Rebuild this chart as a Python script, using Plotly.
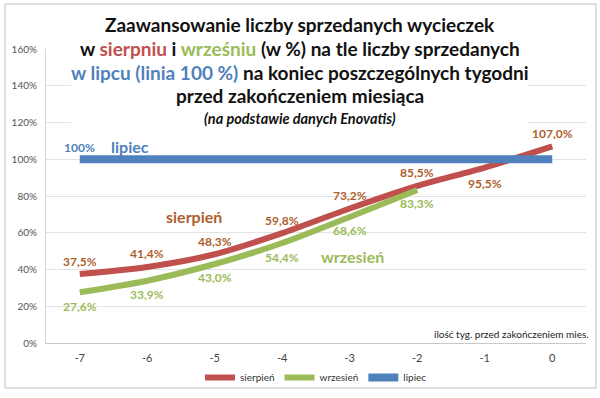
import plotly.graph_objects as go

weeks = ["-7", "-6", "-5", "-4", "-3", "-2", "-1", "0"]
sierpien = [37.5, 41.4, 48.3, 59.8, 73.2, 85.5, 95.5, 107.0]
wrzesien = [27.6, 33.9, 43.0, 54.4, 68.6, 83.3]
lipiec = [100, 100, 100, 100, 100, 100, 100, 100]
sierpien_above = [True, True, True, True, True, True, False, True]

RED = "#C0504D"
GREEN = "#9BBB59"
BLUE = "#4F81BD"
BROWN = "#AE5E2C"
FONT = "Lato, 'Open Sans', sans-serif"

# plot area in pixels
PL, PR, PT, PB = 46, 586, 49, 343
def px(xp):
    return (xp - PL) / (PR - PL)
def py(yp):
    return (PB - yp) / (PB - PT)

def fmt(v):
    return f"{v:.1f}%".replace(".", ",")

fig = go.Figure()
fig.add_trace(go.Scatter(
    x=weeks, y=sierpien, name="sierpień", mode="lines",
    line=dict(color=RED, width=6, shape="spline", smoothing=0.8),
))
fig.add_trace(go.Scatter(
    x=weeks[:len(wrzesien)], y=wrzesien, name="wrzesień", mode="lines",
    line=dict(color=GREEN, width=6, shape="spline", smoothing=0.8),
))
fig.add_trace(go.Scatter(
    x=weeks, y=lipiec, name="lipiec", mode="lines",
    line=dict(color=BLUE, width=8),
))

annotations = []
lblfont = lambda c: dict(size=12, family=FONT, color=c, weight="bold")
for i, v in enumerate(sierpien):
    annotations.append(dict(x=i, y=v, xref="x", yref="y", text=fmt(v), showarrow=False,
                            xanchor="center", yanchor="middle",
                            yshift=13 if sierpien_above[i] else -16, font=lblfont(BROWN)))
for i, v in enumerate(wrzesien):
    annotations.append(dict(x=i, y=v, xref="x", yref="y", text=fmt(v), showarrow=False,
                            xanchor="center", yanchor="middle",
                            yshift=-14, font=lblfont(GREEN)))
annotations.append(dict(x=0, y=lipiec[0], xref="x", yref="y", text="100%", showarrow=False,
                        xanchor="center", yanchor="middle",
                        yshift=12, font=lblfont(BLUE)))

# series name labels
def note(text, xc, yc, size, color, xanchor="center"):
    return dict(text=text, x=px(xc), y=py(yc), xref="paper", yref="paper",
                xanchor=xanchor, yanchor="middle", showarrow=False,
                font=dict(size=size, family=FONT, color=color))

annotations += [
    note("<b>lipiec</b>", 130, 146, 16, BLUE),
    note("<b>sierpień</b>", 194, 216, 16, BROWN),
    note("<b>wrzesień</b>", 352, 256, 16, GREEN),
    note("ilość tyg. przed zakończeniem mies.", 432, 334, 10, "#222222", xanchor="left"),
]

# title lines
title_lines = [
    ("<b>Zaawansowanie liczby sprzedanych wycieczek</b>", 24, 19),
    (f"<b>w <span style='color:{RED}'>sierpniu</span> i <span style='color:{GREEN}'>wrześniu</span> (w %) na tle liczby sprzedanych</b>", 48, 19),
    (f"<b><span style='color:{BLUE}'>w lipcu (linia 100 %)</span> na koniec poszczególnych tygodni</b>", 72, 19),
    ("<b>przed zakończeniem miesiąca</b>", 96, 19),
    ("<b><i>(na podstawie danych Enovatis)</i></b>", 118, 14.5),
]
for text, yc, size in title_lines:
    annotations.append(note(text, 300, yc, size, "#111111"))

fig.update_layout(
    width=600, height=398,
    margin=dict(l=PL, r=600 - PR, t=PT, b=398 - PB, autoexpand=False),
    paper_bgcolor="white", plot_bgcolor="white",
    font=dict(family=FONT, color="#595959"),
    showlegend=True,
    legend=dict(orientation="h", x=0.5, xanchor="center", y=py(363),
                yanchor="top", font=dict(size=10, family=FONT, color="#333333"),
                itemwidth=30, tracegroupgap=0, bgcolor="rgba(0,0,0,0)"),
    xaxis=dict(type="category", range=[-0.5, 7.5], showgrid=False,
               showline=True, linecolor="#C8C8C8", linewidth=1,
               ticks="", tickfont=dict(size=11, color="#444444"), ticklabelstandoff=5),
    yaxis=dict(range=[0, 160], dtick=20, ticksuffix="%", showgrid=True,
               gridcolor="#E3E3E3", gridwidth=1, zeroline=False,
               showline=True, linecolor="#D8D8D8", linewidth=1,
               ticks="", ticklabelstandoff=6,
               tickfont=dict(size=10, color="#555555")),
    annotations=annotations,
    shapes=[
        dict(type="rect", xref="paper", yref="paper",
             x0=px(5), x1=px(596), y0=py(388), y1=py(4),
             line=dict(color="#BFBFBF", width=1), layer="below"),
        dict(type="rect", xref="paper", yref="paper",
             x0=px(71), x1=px(528), y0=py(128), y1=py(10),
             fillcolor="white", line=dict(width=0), layer="above"),
    ],
)

fig.write_html("out.html", config={"displayModeBar": False},
               post_script="document.body.style.margin='0';document.body.style.padding='0';")
